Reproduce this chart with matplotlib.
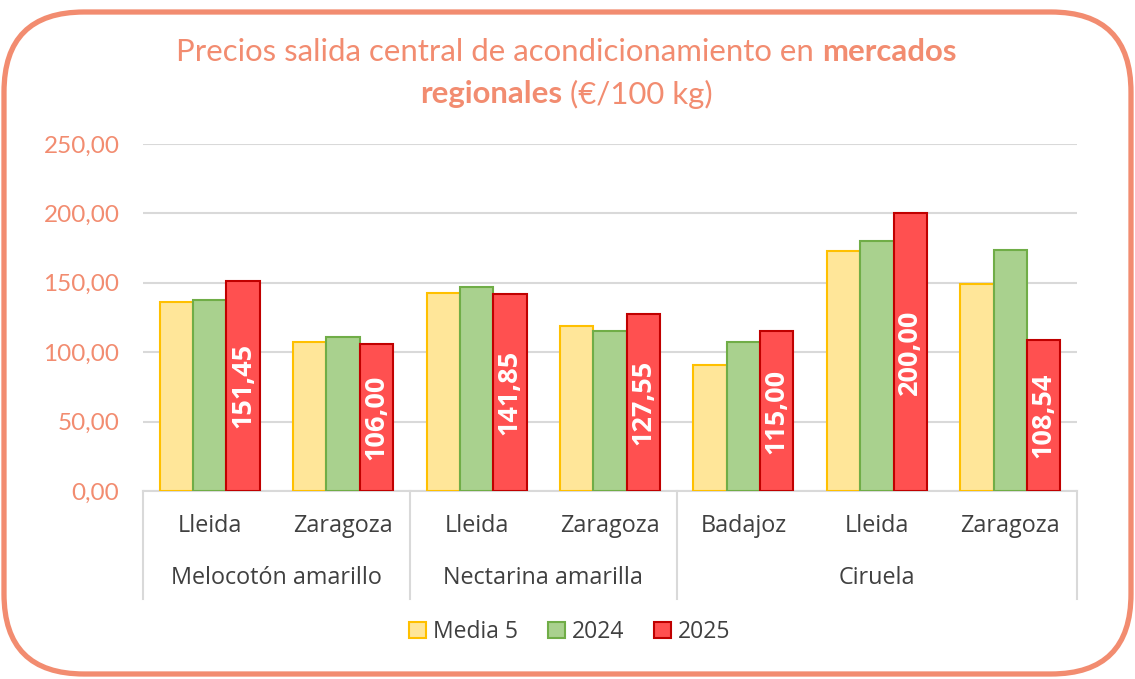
import matplotlib
matplotlib.use("Agg")
import matplotlib.pyplot as plt
from matplotlib.patches import FancyBboxPatch, Patch

plt.rcParams['font.family'] = ['Lato', 'DejaVu Sans']

productos = ["Melocotón amarillo", "Nectarina amarilla", "Ciruela"]
mercados = ["Lleida", "Zaragoza", "Lleida", "Zaragoza", "Badajoz", "Lleida", "Zaragoza"]
grupo_de = [0, 0, 1, 1, 2, 2, 2]
media5 = [136.4, 107.5, 142.8, 119.0, 90.8, 173.2, 149.0]
v2024 = [137.5, 111.2, 147.2, 115.3, 107.5, 180.4, 173.8]
v2025 = [151.45, 106.00, 141.85, 127.55, 115.00, 200.00, 108.54]
series = ["Media 5", "2024", "2025"]

salmon = "#F28C70"
texto = "#404040"
rellenos = ["#FFE699", "#A9D18E", "#FF5050"]
bordes = ["#FFC000", "#70AD47", "#C00000"]
fuente_eje = ['Open Sans', 'DejaVu Sans']

W, H = 1135, 679
fig = plt.figure(figsize=(W / 100, H / 100), dpi=100)

# marco redondeado
bg = fig.add_axes([0, 0, 1, 1])
bg.set_xlim(0, W)
bg.set_ylim(0, H)
bg.axis("off")
bg.add_patch(FancyBboxPatch((4, 5), W - 8, H - 17, boxstyle="round,pad=0,rounding_size=80",
                            fill=False, edgecolor=salmon, linewidth=3.8))

ax = fig.add_axes([143 / W, (H - 491) / H, (1077 - 143) / W, 347 / H])
x = list(range(len(mercados)))
ancho = 0.25
for i, vals in enumerate([media5, v2024, v2025]):
    pos = [xi + (i - 1) * ancho for xi in x]
    ax.bar(pos, vals, width=ancho, color=rellenos[i], edgecolor=bordes[i], linewidth=1.5,
           zorder=3, label=series[i])

for xi, v in zip(x, v2025):
    ax.text(xi + ancho, v / 2, f"{v:.2f}".replace(".", ","), rotation=90, ha="center",
            va="center", color="white", fontsize=19.5, fontweight="bold", family=fuente_eje,
            zorder=4)

ax.set_xlim(-0.5, len(mercados) - 0.5)
ax.set_ylim(0, 250)
ax.set_yticks(range(0, 251, 50))
ax.set_yticklabels([f"{t},00" for t in range(0, 251, 50)], color=salmon, fontsize=17.5)
ax.tick_params(axis="y", length=0, pad=17)
ax.set_xticks([])
ax.grid(axis="y", color="#D9D9D9", linewidth=1.5, zorder=0)
for s in ["top", "right", "left"]:
    ax.spines[s].set_visible(False)
ax.spines["bottom"].set_color("#D9D9D9")
ax.spines["bottom"].set_linewidth(1.5)

tr = ax.get_xaxis_transform()
for xi, m in zip(x, mercados):
    ax.text(xi, -0.101, m, transform=tr, ha="center", va="center", fontsize=16.8,
            color=texto, family=fuente_eje)

inicio = 0
for g, p in enumerate(productos):
    n = grupo_de.count(g)
    centro = inicio + (n - 1) / 2
    ax.text(centro, -0.252, p, transform=tr, ha="center", va="center", fontsize=16.8,
            color=texto, family=fuente_eje)
    inicio += n

sep = [-0.5]
acum = -0.5
for g in range(len(productos)):
    acum += grupo_de.count(g)
    sep.append(acum)
for s in sep:
    ax.plot([s, s], [0, -0.31], transform=tr, color="#D9D9D9", linewidth=1.5, clip_on=False)

handles = [Patch(facecolor=rellenos[i], edgecolor=bordes[i], linewidth=1.5, label=series[i])
           for i in range(3)]
fig.legend(handles=handles, loc="center", bbox_to_anchor=(570 / W, 1 - 632 / H), ncol=3,
           frameon=False, prop={'family': fuente_eje, 'size': 16.5}, handlelength=0.75,
           handleheight=0.75, handletextpad=0.3, columnspacing=1.3, labelcolor=texto)

# titulo con partes en negrita
fig.canvas.draw()
renderer = fig.canvas.get_renderer()
lineas = [
    [("Precios salida central de acondicionamiento en ", "normal"), ("mercados", "bold")],
    [("regionales", "bold"), (" (€/100 kg)", "normal")],
]
ys = [H - 52, H - 94]
for partes, yl in zip(lineas, ys):
    objs = []
    for t, w in partes:
        objs.append(bg.text(0, yl, t, fontsize=22.4, fontweight=w, color=salmon,
                            ha="left", va="center"))
    anchos = [o.get_window_extent(renderer).width for o in objs]
    x0 = 566 - sum(anchos) / 2
    for o, a in zip(objs, anchos):
        o.set_x(x0)
        x0 += a

fig.savefig("out.png", dpi=100)
